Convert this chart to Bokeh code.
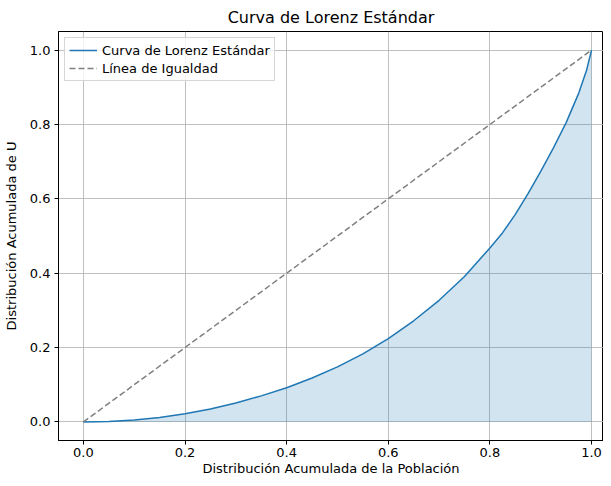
from bokeh.plotting import figure
from bokeh.models import FixedTicker, PrintfTickFormatter, Range1d, Legend, LegendItem
from bokeh.embed import file_html
from bokeh.resources import INLINE

# Data
poblacion = [0.0, 0.05, 0.1, 0.15, 0.2, 0.25, 0.3, 0.35, 0.4, 0.45, 0.5, 0.55,
             0.6, 0.65, 0.7, 0.75, 0.8, 0.825, 0.85, 0.875, 0.9, 0.925, 0.95,
             0.975, 0.99, 1.0]
lorenz_u = [0.0, 0.001, 0.005, 0.012, 0.022, 0.035, 0.051, 0.070, 0.092, 0.118, 0.148, 0.183,
            0.224, 0.272, 0.327, 0.391, 0.468, 0.509, 0.558, 0.614, 0.674, 0.737, 0.805,
            0.885, 0.945, 1.0]
igualdad_x = [0.0, 1.0]
igualdad_y = [0.0, 1.0]
ticks = [0.0, 0.2, 0.4, 0.6, 0.8, 1.0]

FONT = "DejaVu Sans"

p = figure(width=603, height=478, output_backend="svg", toolbar_location=None,
           x_range=Range1d(-0.049, 1.0235), y_range=Range1d(-0.05, 1.05),
           title="Curva de Lorenz Estándar",
           min_border_left=47, min_border_top=25, min_border_bottom=30, min_border_right=0)

p.title.align = "center"
p.title.text_font = FONT
p.title.text_font_size = "16px"
p.title.text_font_style = "normal"
p.title.text_color = "black"

p.outline_line_color = "black"
p.outline_line_alpha = 1.0
p.outline_line_width = 1

for ax in (p.xaxis[0], p.yaxis[0]):
    ax.ticker = FixedTicker(ticks=ticks)
    ax.formatter = PrintfTickFormatter(format="%.1f")
    ax.major_tick_in = 0
    ax.major_tick_out = 4
    ax.minor_tick_line_color = None
    ax.major_label_text_font = FONT
    ax.major_label_text_font_size = "13px"
    ax.major_label_text_color = "black"
    ax.axis_label_text_font = FONT
    ax.axis_label_text_font_size = "13px"
    ax.axis_label_text_font_style = "normal"
    ax.axis_label_text_color = "black"
    ax.axis_line_color = "black"
    ax.major_tick_line_color = "black"

p.xaxis.axis_label = "Distribución Acumulada de la Población"
p.yaxis.axis_label = "Distribución Acumulada de U"
p.xaxis.major_label_standoff = 3
p.yaxis.major_label_standoff = 4
p.xaxis.axis_label_standoff = 1
p.yaxis.axis_label_standoff = 8

p.grid.grid_line_color = "#b0b0b0"
p.grid.grid_line_width = 0.8
p.xgrid.ticker = FixedTicker(ticks=ticks)
p.ygrid.ticker = FixedTicker(ticks=ticks)

p.varea(x=poblacion, y1=[0.0] * len(poblacion), y2=lorenz_u, fill_color="#1f77b4", fill_alpha=0.2)
r1 = p.line(poblacion, lorenz_u, line_color="#1f77b4", line_width=1.5)
r2 = p.line(igualdad_x, igualdad_y, line_color="gray", line_width=1.5, line_dash="6 3")

legend = Legend(items=[LegendItem(label="Curva de Lorenz Estándar", renderers=[r1]),
                       LegendItem(label="Línea de Igualdad", renderers=[r2])],
                location="top_left")
legend.label_text_font = FONT
legend.label_text_font_size = "13px"
legend.label_text_color = "black"
legend.border_line_color = "#cccccc"
legend.border_line_alpha = 0.8
legend.background_fill_alpha = 0.8
legend.glyph_width = 28
legend.glyph_height = 16
legend.label_height = 16
legend.spacing = 2
legend.padding = 4
legend.margin = 6
p.add_layout(legend)

open("out.html", "w").write(file_html(p, INLINE))
